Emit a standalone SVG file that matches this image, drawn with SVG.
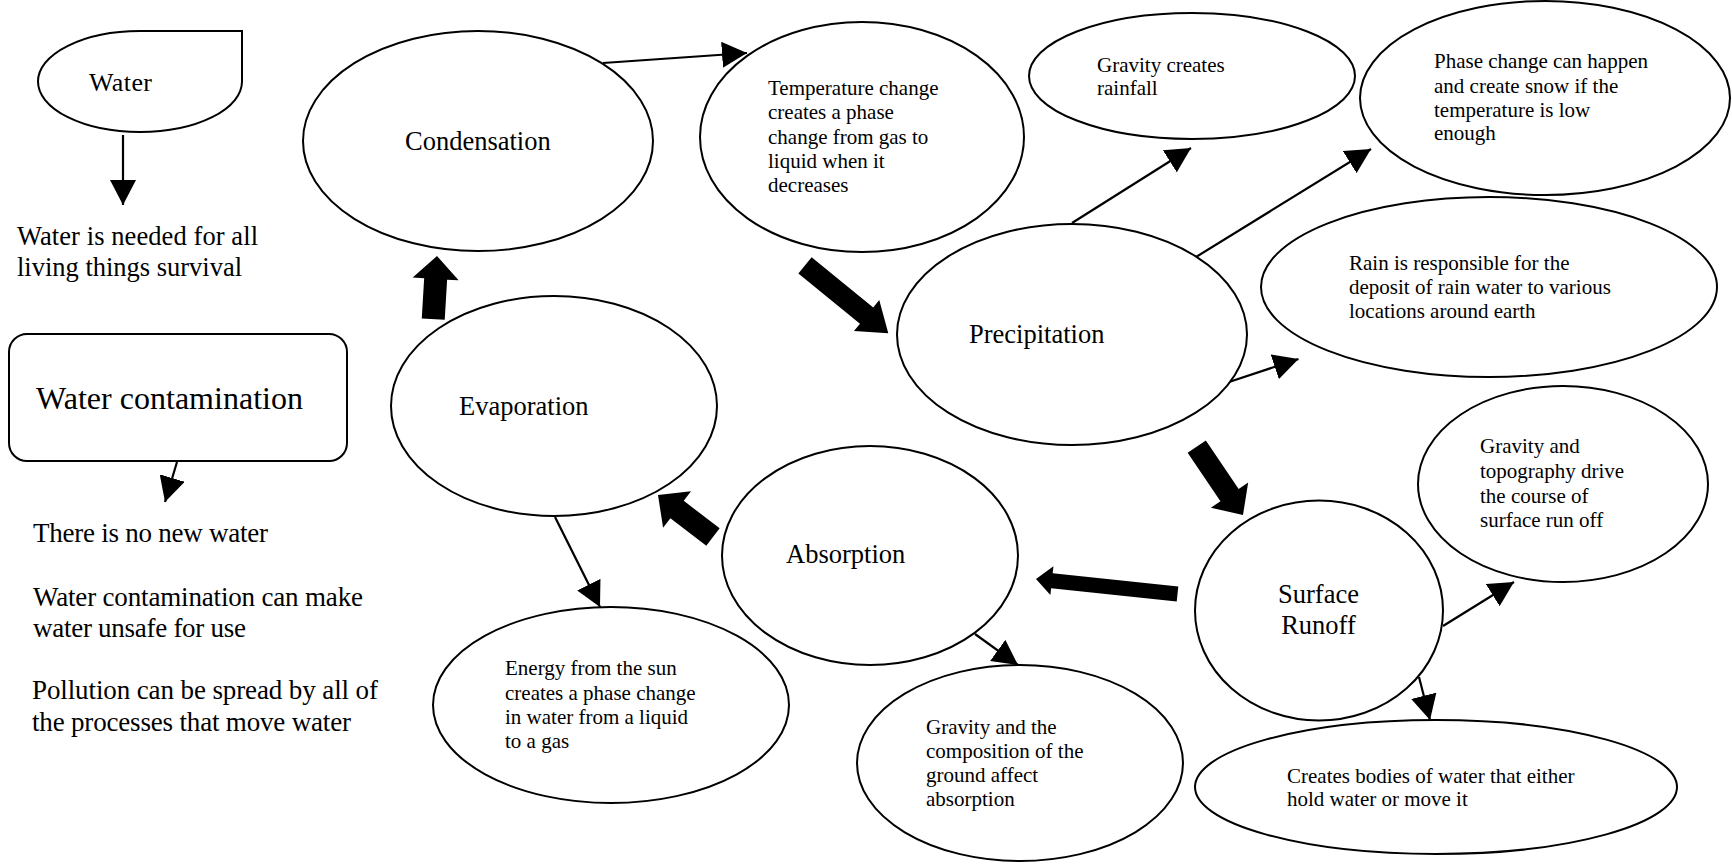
<svg xmlns="http://www.w3.org/2000/svg" width="1732" height="867" viewBox="0 0 1732 867" font-family="Liberation Serif, Times New Roman, serif">
<style>
.shape{fill:#fff;stroke:#000;stroke-width:2}
text{font-family:'Liberation Serif','Times New Roman',serif;fill:#000}
.big{font-size:26.5px}
.small{font-size:21px}
.side{font-size:27px}
.line{stroke:#000;stroke-width:2.2;fill:none;marker-end:url(#ah)}
.block{fill:#000}
</style>
<defs>
<marker id="ah" markerUnits="userSpaceOnUse" markerWidth="25" markerHeight="26" viewBox="0 0 25 26" refX="25" refY="13" orient="auto">
<path d="M0,0 L25,13 L0,26 Z" fill="#000"/>
</marker>
</defs>
<rect width="1732" height="867" fill="#fff"/>

<g id="connectors">
<line class="line" x1="123" y1="135" x2="123" y2="205"/>
<line class="line" x1="177" y1="462" x2="165" y2="502"/>
<line class="line" x1="603" y1="63" x2="747" y2="53"/>
<line class="line" x1="1072" y1="223" x2="1191" y2="148"/>
<line class="line" x1="1196" y1="257" x2="1371" y2="149"/>
<line class="line" x1="1226" y1="383" x2="1298.5" y2="359"/>
<line class="line" x1="1443" y1="626" x2="1514" y2="582"/>
<line class="line" x1="1419" y1="677" x2="1430" y2="720"/>
<line class="line" x1="555" y1="517" x2="600" y2="607"/>
<line class="line" x1="975" y1="634" x2="1018" y2="665"/>
<polygon class="block" transform="translate(437,256) rotate(-86.6)" points="0,0 -23,-23 -23,-11.5 -63.3,-11.5 -63.3,11.5 -23,11.5 -23,23"/>
<polygon class="block" transform="translate(888.3,333.3) rotate(39.2)" points="0,0 -28,-20 -28,-10.5 -107.5,-10.5 -107.5,10.5 -28,10.5 -28,20"/>
<polygon class="block" transform="translate(1243,515) rotate(55.9)" points="0,0 -24,-22.5 -24,-11 -82.5,-11 -82.5,11 -24,11 -24,22.5"/>
<polygon class="block" transform="translate(1036,579) rotate(186.05)" points="0,0 -16,-14.5 -16,-7.5 -142.3,-7.5 -142.3,7.5 -16,7.5 -16,14.5"/>
<polygon class="block" transform="translate(658,495) rotate(217.4)" points="0,0 -24,-23 -24,-11 -69.2,-11 -69.2,11 -24,11 -24,23"/>
</g>

<g id="water">
<path class="shape" d="M140,31 H242 V81.5 A102,50.5 0 0 1 140,132 A102,50.5 0 0 1 38,81.5 A102,50.5 0 0 1 140,31 Z"/>
<text x="89" y="91" font-size="26" textLength="63">Water</text>
</g>
<g id="water-needed">
<text class="big" x="17" y="245" textLength="241">Water is needed for all</text>
<text class="big" x="17" y="276" textLength="225">living things survival</text>
</g>
<g id="water-contamination">
<rect class="shape" x="9" y="334" width="338" height="127" rx="18"/>
<text x="36" y="409" font-size="32" textLength="267">Water contamination</text>
</g>
<g id="contamination-notes">
<text class="side" x="33" y="542" textLength="235">There is no new water</text>
<text class="side" x="33" y="606" textLength="330">Water contamination can make</text>
<text class="side" x="33" y="637" textLength="213">water unsafe for use</text>
<text class="side" x="32" y="699" textLength="346">Pollution can be spread by all of</text>
<text class="side" x="32" y="731" textLength="319">the processes that move water</text>
</g>

<g id="condensation">
<ellipse class="shape" cx="478" cy="141" rx="175" ry="110"/>
<text class="big" x="405" y="150">Condensation</text>
</g>
<g id="temperature">
<ellipse class="shape" cx="862" cy="137" rx="162" ry="115"/>
<text class="small" x="768" y="95">Temperature change</text>
<text class="small" x="768" y="119">creates a phase</text>
<text class="small" x="768" y="144">change from gas to</text>
<text class="small" x="768" y="168">liquid when it</text>
<text class="small" x="768" y="192">decreases</text>
</g>
<g id="gravity-rainfall">
<ellipse class="shape" cx="1192" cy="76" rx="163" ry="63"/>
<text class="small" x="1097" y="72">Gravity creates</text>
<text class="small" x="1097" y="95">rainfall</text>
</g>
<g id="phase-snow">
<ellipse class="shape" cx="1545" cy="98" rx="185" ry="97"/>
<text class="small" x="1434" y="68">Phase change can happen</text>
<text class="small" x="1434" y="93">and create snow if the</text>
<text class="small" x="1434" y="117">temperature is low</text>
<text class="small" x="1434" y="140">enough</text>
</g>
<g id="rain-deposit">
<ellipse class="shape" cx="1489" cy="287" rx="228" ry="90"/>
<text class="small" x="1349" y="270">Rain is responsible for the</text>
<text class="small" x="1349" y="294">deposit of rain water to various</text>
<text class="small" x="1349" y="318">locations around earth</text>
</g>
<g id="precipitation">
<ellipse class="shape" cx="1072" cy="334.5" rx="175" ry="110.5"/>
<text class="big" x="969" y="343">Precipitation</text>
</g>
<g id="evaporation">
<ellipse class="shape" cx="554" cy="406" rx="163" ry="110"/>
<text class="big" x="459" y="415">Evaporation</text>
</g>
<g id="energy">
<ellipse class="shape" cx="611" cy="705" rx="178" ry="98"/>
<text class="small" x="505" y="675">Energy from the sun</text>
<text class="small" x="505" y="700">creates a phase change</text>
<text class="small" x="505" y="724">in water from a liquid</text>
<text class="small" x="505" y="748">to a gas</text>
</g>
<g id="absorption">
<ellipse class="shape" cx="870" cy="555.5" rx="148" ry="109.5"/>
<text class="big" x="786" y="563">Absorption</text>
</g>
<g id="gravity-composition">
<ellipse class="shape" cx="1020" cy="763" rx="163" ry="98"/>
<text class="small" x="926" y="734">Gravity and the</text>
<text class="small" x="926" y="758">composition of the</text>
<text class="small" x="926" y="782">ground affect</text>
<text class="small" x="926" y="806">absorption</text>
</g>
<g id="surface-runoff">
<ellipse class="shape" cx="1319" cy="610.5" rx="124" ry="110"/>
<text class="big" x="1318.5" y="603" text-anchor="middle">Surface</text>
<text class="big" x="1318.5" y="634" text-anchor="middle">Runoff</text>
</g>
<g id="topography">
<ellipse class="shape" cx="1563" cy="484" rx="145" ry="98"/>
<text class="small" x="1480" y="453">Gravity and</text>
<text class="small" x="1480" y="478">topography drive</text>
<text class="small" x="1480" y="503">the course of</text>
<text class="small" x="1480" y="527">surface run off</text>
</g>
<g id="bodies-of-water">
<ellipse class="shape" cx="1436" cy="787" rx="241" ry="67"/>
<text class="small" x="1287" y="783">Creates bodies of water that either</text>
<text class="small" x="1287" y="806">hold water or move it</text>
</g>
</svg>
